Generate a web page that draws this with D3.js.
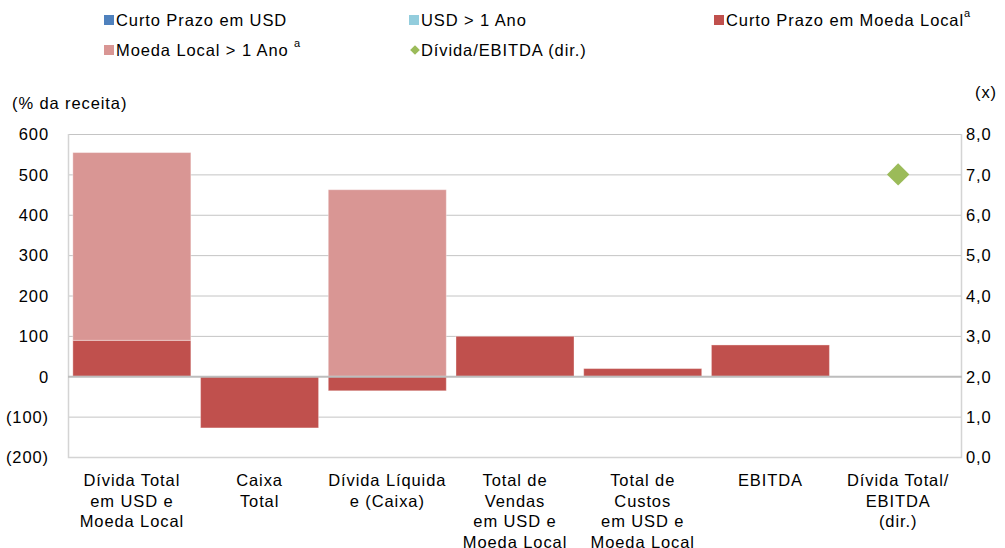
<!DOCTYPE html>
<html>
<head>
<meta charset="utf-8" />
<title>Dívida por moeda</title>
<style>
body { margin: 0; background: #fff; }
#graph { width: 1005px; height: 548px; }
text { font-family: "Liberation Sans", Arial, sans-serif; font-size: 16.5px; letter-spacing: 0.9px; fill: #000; }
.grid line { stroke: #c4c4c4; stroke-width: 1; }
.axis path, .axis line { display: none; }
</style>
</head>
<body>
<div id="graph"></div>
<script src="https://d3js.org/d3.v7.min.js"></script>
<script>
!(function(){
    "use strict"

    var categories = [
        ["Dívida Total", "em USD e", "Moeda Local"],
        ["Caixa", "Total"],
        ["Dívida Líquida", "e (Caixa)"],
        ["Total de", "Vendas", "em USD e", "Moeda Local"],
        ["Total de", "Custos", "em USD e", "Moeda Local"],
        ["EBITDA"],
        ["Dívida Total/", "EBITDA", "(dir.)"]
    ];
    var curtoUSD   = [0, 0, 0, 0, 0, 0, 0];
    var usdLongo   = [0, 0, 0, 0, 0, 0, 0];
    var curtoLocal = [89, -128, -36, 99, 19, 77.5, 0];
    var localLongo = [465, 0, 462, 0, 0, 0, 0];
    var dividaEbitda = [null, null, null, null, null, null, 7.0];

    var leftTicks = [-200, -100, 0, 100, 200, 300, 400, 500, 600];
    var rightTicks = [0, 1, 2, 3, 4, 5, 6, 7, 8];

    var seriesKeys = ["curtoUSD", "usdLongo", "curtoLocal", "localLongo"];
    var colors = {
        curtoUSD: "#4f81bd",
        usdLongo: "#93cddd",
        curtoLocal: "#c0504d",
        localLongo: "#d99694",
        ratio: "#9bbb59"
    };

    var width = 1005, height = 548;
    var margin = {top: 134, left: 68, bottom: 91, right: 43};
    var chartWidth = width - margin.left - margin.right;
    var chartHeight = height - margin.top - margin.bottom;

    var svg = d3.select("#graph").append("svg")
        .attr("width", width).attr("height", height);

    var rows = categories.map(function(c, i){
        return {
            idx: i,
            curtoUSD: curtoUSD[i],
            usdLongo: usdLongo[i],
            curtoLocal: curtoLocal[i],
            localLongo: localLongo[i]
        };
    });

    var xScale = d3.scaleBand()
        .domain(d3.range(categories.length))
        .range([0, chartWidth])
        .paddingInner(0.076)
        .paddingOuter(0.038);
    var yScale = d3.scaleLinear().domain([-200, 600]).range([chartHeight, 0]);
    var y2Scale = d3.scaleLinear().domain([0, 8]).range([chartHeight, 0]);

    var chart = svg.append("g")
        .attr("transform", "translate(" + [margin.left, margin.top] + ")");

    // grid
    chart.append("g").attr("class", "grid")
        .selectAll("line").data(leftTicks.filter(function(d){ return d !== 0 && d !== -200; }))
        .enter().append("line")
        .attr("x1", 0).attr("x2", chartWidth)
        .attr("y1", function(d){ return yScale(d) + 0.5; })
        .attr("y2", function(d){ return yScale(d) + 0.5; });

    // bars
    var stacked = d3.stack().keys(seriesKeys).offset(d3.stackOffsetDiverging)(rows);
    chart.append("g").selectAll("g").data(stacked)
        .enter().append("g")
        .attr("fill", function(d){ return colors[d.key]; })
        .selectAll("rect").data(function(d){ return d.filter(function(p){ return p[1] - p[0] !== 0; }); })
        .enter().append("rect")
        .attr("x", function(d){ return xScale(d.data.idx); })
        .attr("width", xScale.bandwidth())
        .attr("y", function(d){ return yScale(Math.max(d[0], d[1])); })
        .attr("height", function(d){ return Math.abs(yScale(d[0]) - yScale(d[1])); })
        .attr("stroke", "rgba(255,255,255,0.35)")
        .attr("stroke-width", 1);

    // frame
    chart.append("path")
        .attr("d", "M0.5,0 V" + (chartHeight + 0.5) + " H" + (chartWidth - 0.5) + " V0")
        .attr("fill", "none").attr("stroke", "#d4d4d4").attr("stroke-width", 1.5);
    chart.append("line")
        .attr("x1", 0).attr("x2", chartWidth)
        .attr("y1", yScale(0) + 0.5).attr("y2", yScale(0) + 0.5)
        .attr("stroke", "#bdbdbd").attr("stroke-width", 2);

    // diamond
    chart.append("g").selectAll("path")
        .data(dividaEbitda.map(function(v, i){ return {v: v, i: i}; }).filter(function(d){ return d.v != null; }))
        .enter().append("path")
        .attr("d", d3.symbol().type(d3.symbolDiamond2).size(320))
        .attr("transform", function(d){
            return "translate(" + [xScale(d.i) + xScale.bandwidth() / 2, y2Scale(d.v)] + ")";
        })
        .attr("fill", colors.ratio);

    // axes
    var yAxis = d3.axisLeft(yScale).tickValues(leftTicks).tickSize(0).tickPadding(19)
        .tickFormat(function(d){ return d < 0 ? "(" + (-d) + ")" : d; });
    chart.append("g").attr("class", "axis").call(yAxis)
        .selectAll("text").attr("dy", "0.35em");

    var y2Axis = d3.axisRight(y2Scale).tickValues(rightTicks).tickSize(0).tickPadding(4)
        .tickFormat(function(d){ return d3.format(".1f")(d).replace(".", ","); });
    chart.append("g").attr("class", "axis")
        .attr("transform", "translate(" + chartWidth + ",0)")
        .call(y2Axis)
        .selectAll("text").attr("dy", "0.35em");

    // category labels
    var labels = chart.append("g").selectAll("text").data(categories)
        .enter().append("text")
        .attr("text-anchor", "middle")
        .attr("transform", function(d, i){
            return "translate(" + [xScale(i) + xScale.bandwidth() / 2, chartHeight + 29] + ")";
        });
    labels.selectAll("tspan").data(function(d){ return d; })
        .enter().append("tspan")
        .attr("x", 0)
        .attr("y", function(d, i){ return i * 20.5; })
        .text(function(d){ return d; });

    // axis titles
    svg.append("text").attr("x", 12).attr("y", 109).text("(% da receita)");
    svg.append("text").attr("x", 975).attr("y", 98).text("(x)");

    // legend
    var legendItems = [
        {key: "curtoUSD", label: "Curto Prazo em USD", sup: "", x: 104, y: 20},
        {key: "usdLongo", label: "USD > 1 Ano", sup: "", x: 409, y: 20},
        {key: "curtoLocal", label: "Curto Prazo em Moeda Local", sup: "a", x: 714, y: 20},
        {key: "localLongo", label: "Moeda Local > 1 Ano ", sup: "a", x: 104, y: 50},
        {key: "ratio", label: "Dívida/EBITDA (dir.)", sup: "", x: 409, y: 50, diamond: true}
    ];
    var legend = svg.append("g").selectAll("g").data(legendItems)
        .enter().append("g")
        .attr("transform", function(d){ return "translate(" + [d.x, d.y] + ")"; });
    legend.filter(function(d){ return !d.diamond; }).append("rect")
        .attr("x", 0).attr("y", -5).attr("width", 10).attr("height", 10)
        .attr("fill", function(d){ return colors[d.key]; });
    legend.filter(function(d){ return d.diamond; }).append("path")
        .attr("d", d3.symbol().type(d3.symbolDiamond2).size(60))
        .attr("transform", "translate(6,0)")
        .attr("fill", colors.ratio);
    var lt = legend.append("text").attr("x", 12).attr("y", 6);
    lt.append("tspan").text(function(d){ return d.label; });
    lt.append("tspan").attr("dy", -9).style("font-size", "11px").style("letter-spacing", "0px")
        .text(function(d){ return d.sup; });
}());
</script>
</body>
</html>
